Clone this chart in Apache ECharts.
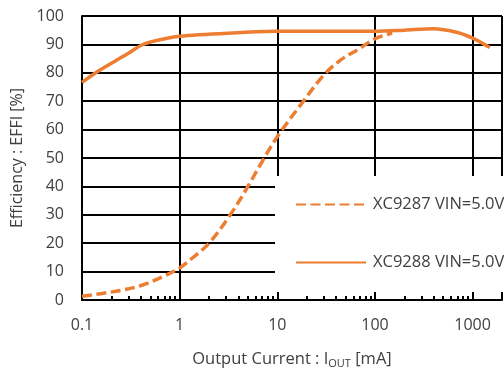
<!DOCTYPE html>
<html><head><meta charset="utf-8">
<script src="https://cdn.jsdelivr.net/npm/echarts@6/dist/echarts.min.js"></script>
<style>html,body{margin:0;padding:0;background:#fff}#c{width:504px;height:374px}</style>
</head><body><div id="c"></div>
<script>
// XC9287 VIN=5.0V (dashed): [current mA, efficiency %]
const xc9287Current = [0.1, 0.16, 0.26, 0.41, 0.66, 1, 1.34, 2, 3.3, 5, 6.9, 10, 18.5, 29.6, 44, 70, 100, 150];
const xc9287Eff     = [1.3, 2.3, 3.5, 5.2, 8.1, 11.3, 14.7, 20, 30, 40, 48.4, 57.5, 70, 79, 84.4, 88.6, 92, 94];
// XC9288 VIN=5.0V (solid)
const xc9288Current = [0.1, 0.15, 0.29, 0.41, 0.58, 1, 3.85, 10, 100, 200, 395, 700, 1000, 1500];
const xc9288Eff     = [76.6, 80.8, 86.6, 89.8, 91.4, 92.9, 94.1, 94.6, 94.6, 95.0, 95.5, 94.2, 92.2, 88.9];
const seriesNames = ['XC9287 VIN=5.0V', 'XC9288 VIN=5.0V'];
const xMajorTicks = [0.1, 1, 10, 100, 1000];
const xMinorTicks = [0.2,0.3,0.4,0.5,0.6,0.7,0.8,0.9, 2,3,4,5,6,7,8,9, 20,30,40,50,60,70,80,90, 200,300,400,500,600,700,800,900, 2000];

const txt = '#404040';
const orange = '#ED7D31';
const font = 'Open Sans';

const chart = echarts.init(document.getElementById('c'), null, {renderer: 'canvas'});
chart.setOption({
  animation: false,
  backgroundColor: '#fff',
  grid: {left: 82, right: 2, top: 16, bottom: 66},
  textStyle: {fontFamily: font},
  legend: {
    orient: 'vertical', left: 295, top: 196, padding: 0,
    itemWidth: 70, itemHeight: 16, itemGap: 41,
    data: seriesNames,
    itemStyle: {opacity: 0, borderWidth: 0},
    textStyle: {fontFamily: font, fontSize: 16.5, color: txt, padding: [0,0,0,2], lineHeight: 16},
    z: 5
  },
  graphic: [{
    type: 'rect', left: 275, top: 176, z: 1,
    shape: {width: 229, height: 116},
    style: {fill: '#fff'}
  }],
  xAxis: [{
    type: 'log', logBase: 10, min: 0.1, max: 2000,
    name: 'Output Current : I{s|OUT} [mA]',
    nameLocation: 'middle', nameGap: 50,
    nameTextStyle: {fontFamily: font, fontSize: 16.5, color: txt,
      rich: {s: {fontFamily: font, fontSize: 11, color: txt, verticalAlign: 'bottom', padding: [8,0,0,0]}}},
    axisLine: {show: true, lineStyle: {color: '#000', width: 2}},
    axisTick: {show: false},
    axisLabel: {fontFamily: font, fontSize: 16, color: txt, margin: 17,
      customValues: xMajorTicks,
      formatter: v => String(+(+v).toPrecision(6))},
    splitLine: {show: true, lineStyle: {color: '#000', width: 2}},
    z: 0
  }, {
    type: 'log', logBase: 10, min: 0.1, max: 2000, position: 'bottom', gridIndex: 0,
    axisLine: {show: false},
    axisLabel: {show: false},
    axisTick: {show: true, inside: true, length: 4, customValues: xMinorTicks,
      lineStyle: {color: '#000', width: 2}},
    splitLine: {show: false},
    z: 0
  }],
  yAxis: {
    type: 'value', min: 0, max: 100, interval: 10,
    name: 'Efficiency : EFFI [%]', nameLocation: 'middle', nameGap: 55,
    nameTextStyle: {fontFamily: font, fontSize: 16, color: txt},
    axisLine: {show: true, lineStyle: {color: '#000', width: 2}},
    axisTick: {show: false},
    axisLabel: {fontFamily: font, fontSize: 16, color: txt, margin: 18},
    splitLine: {show: true, lineStyle: {color: '#000', width: 2}},
    z: 0
  },
  series: [{
    name: seriesNames[0], type: 'line', smooth: 0.35, symbol: 'none', z: 3,
    data: xc9287Current.map((x, i) => [x, xc9287Eff[i]]),
    lineStyle: {color: orange, width: 3.5, type: [10, 4.5]},
    itemStyle: {color: orange}
  }, {
    name: seriesNames[1], type: 'line', smooth: 0.3, symbol: 'none', z: 3,
    data: xc9288Current.map((x, i) => [x, xc9288Eff[i]]),
    lineStyle: {color: orange, width: 3.5},
    itemStyle: {color: orange}
  }]
});
</script></body></html>
